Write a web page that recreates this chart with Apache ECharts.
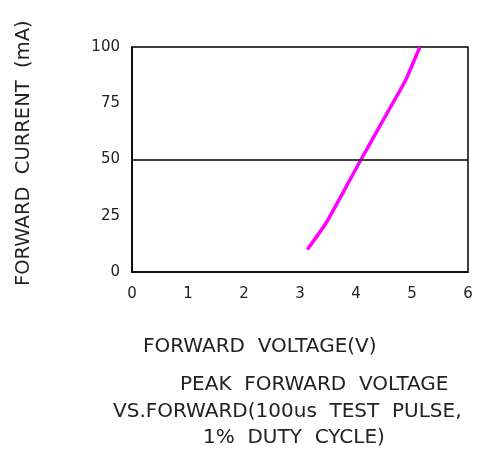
<!DOCTYPE html>
<html><head><meta charset="utf-8">
<script src="https://cdn.jsdelivr.net/npm/echarts@6/dist/echarts.min.js"></script>
<style>html,body{margin:0;padding:0;background:#fff}#c{width:486px;height:454px}</style>
</head><body><div id="c"></div>
<script>
var voltage = [3.13, 3.47, 4.09, 4.61, 4.88, 5.14];
var current = [10, 22, 50, 73, 85, 100];
var xTicks = [0, 1, 2, 3, 4, 5, 6];
var yTicks = [0, 25, 50, 75, 100];
var refLine = 50;
var xTitle = 'FORWARD  VOLTAGE(V)';
var yTitle = 'FORWARD  CURRENT  (mA)';
var caption = ['PEAK  FORWARD  VOLTAGE', 'VS.FORWARD(100us  TEST  PULSE,', '1%  DUTY  CYCLE)'];

var font = 'DejaVu Sans';
var chart = echarts.init(document.getElementById('c'));
chart.setOption({
  animation: false,
  grid: {left: 132, right: 18, top: 47, bottom: 182, show: true, borderColor: '#000', borderWidth: 1.5},
  xAxis: {type: 'value', min: xTicks[0], max: xTicks[xTicks.length-1], interval: 1,
    axisLine: {show: true, lineStyle: {color: '#000', width: 1.5}}, axisTick: {show: false},
    splitLine: {show: false},
    axisLabel: {color: '#222', fontSize: 15, fontFamily: font, margin: 15}},
  yAxis: {type: 'value', min: yTicks[0], max: yTicks[yTicks.length-1], interval: 25,
    axisLine: {show: true, lineStyle: {color: '#000', width: 1.5}}, axisTick: {show: false},
    splitLine: {show: false},
    axisLabel: {color: '#222', fontSize: 15, fontFamily: font, margin: 12}},
  series: [{type: 'line', smooth: 0.2, showSymbol: false,
    data: voltage.map(function(v, i){ return [v, current[i]]; }),
    lineStyle: {color: '#ff00ff', width: 3.5},
    markLine: {silent: true, symbol: 'none', label: {show: false},
      lineStyle: {color: '#000', width: 1.5, type: 'solid'},
      data: [{yAxis: refLine}]}
  }],
  graphic: [
    {type: 'text', left: 143, top: 337, style: {text: xTitle, fontSize: 20, fontFamily: font, fill: '#222'}},
    {type: 'text', left: 180, top: 375, style: {text: caption[0], fontSize: 20, fontFamily: font, fill: '#222'}},
    {type: 'text', left: 113, top: 402, style: {text: caption[1], fontSize: 20, fontFamily: font, fill: '#222'}},
    {type: 'text', left: 203, top: 428, style: {text: caption[2], fontSize: 20, fontFamily: font, fill: '#222'}},
    {type: 'text', x: 14, y: 286, rotation: Math.PI/2, style: {text: yTitle, fontSize: 19.5, fontFamily: font, fill: '#222', textVerticalAlign: 'top'}}
  ]
});
</script></body></html>
